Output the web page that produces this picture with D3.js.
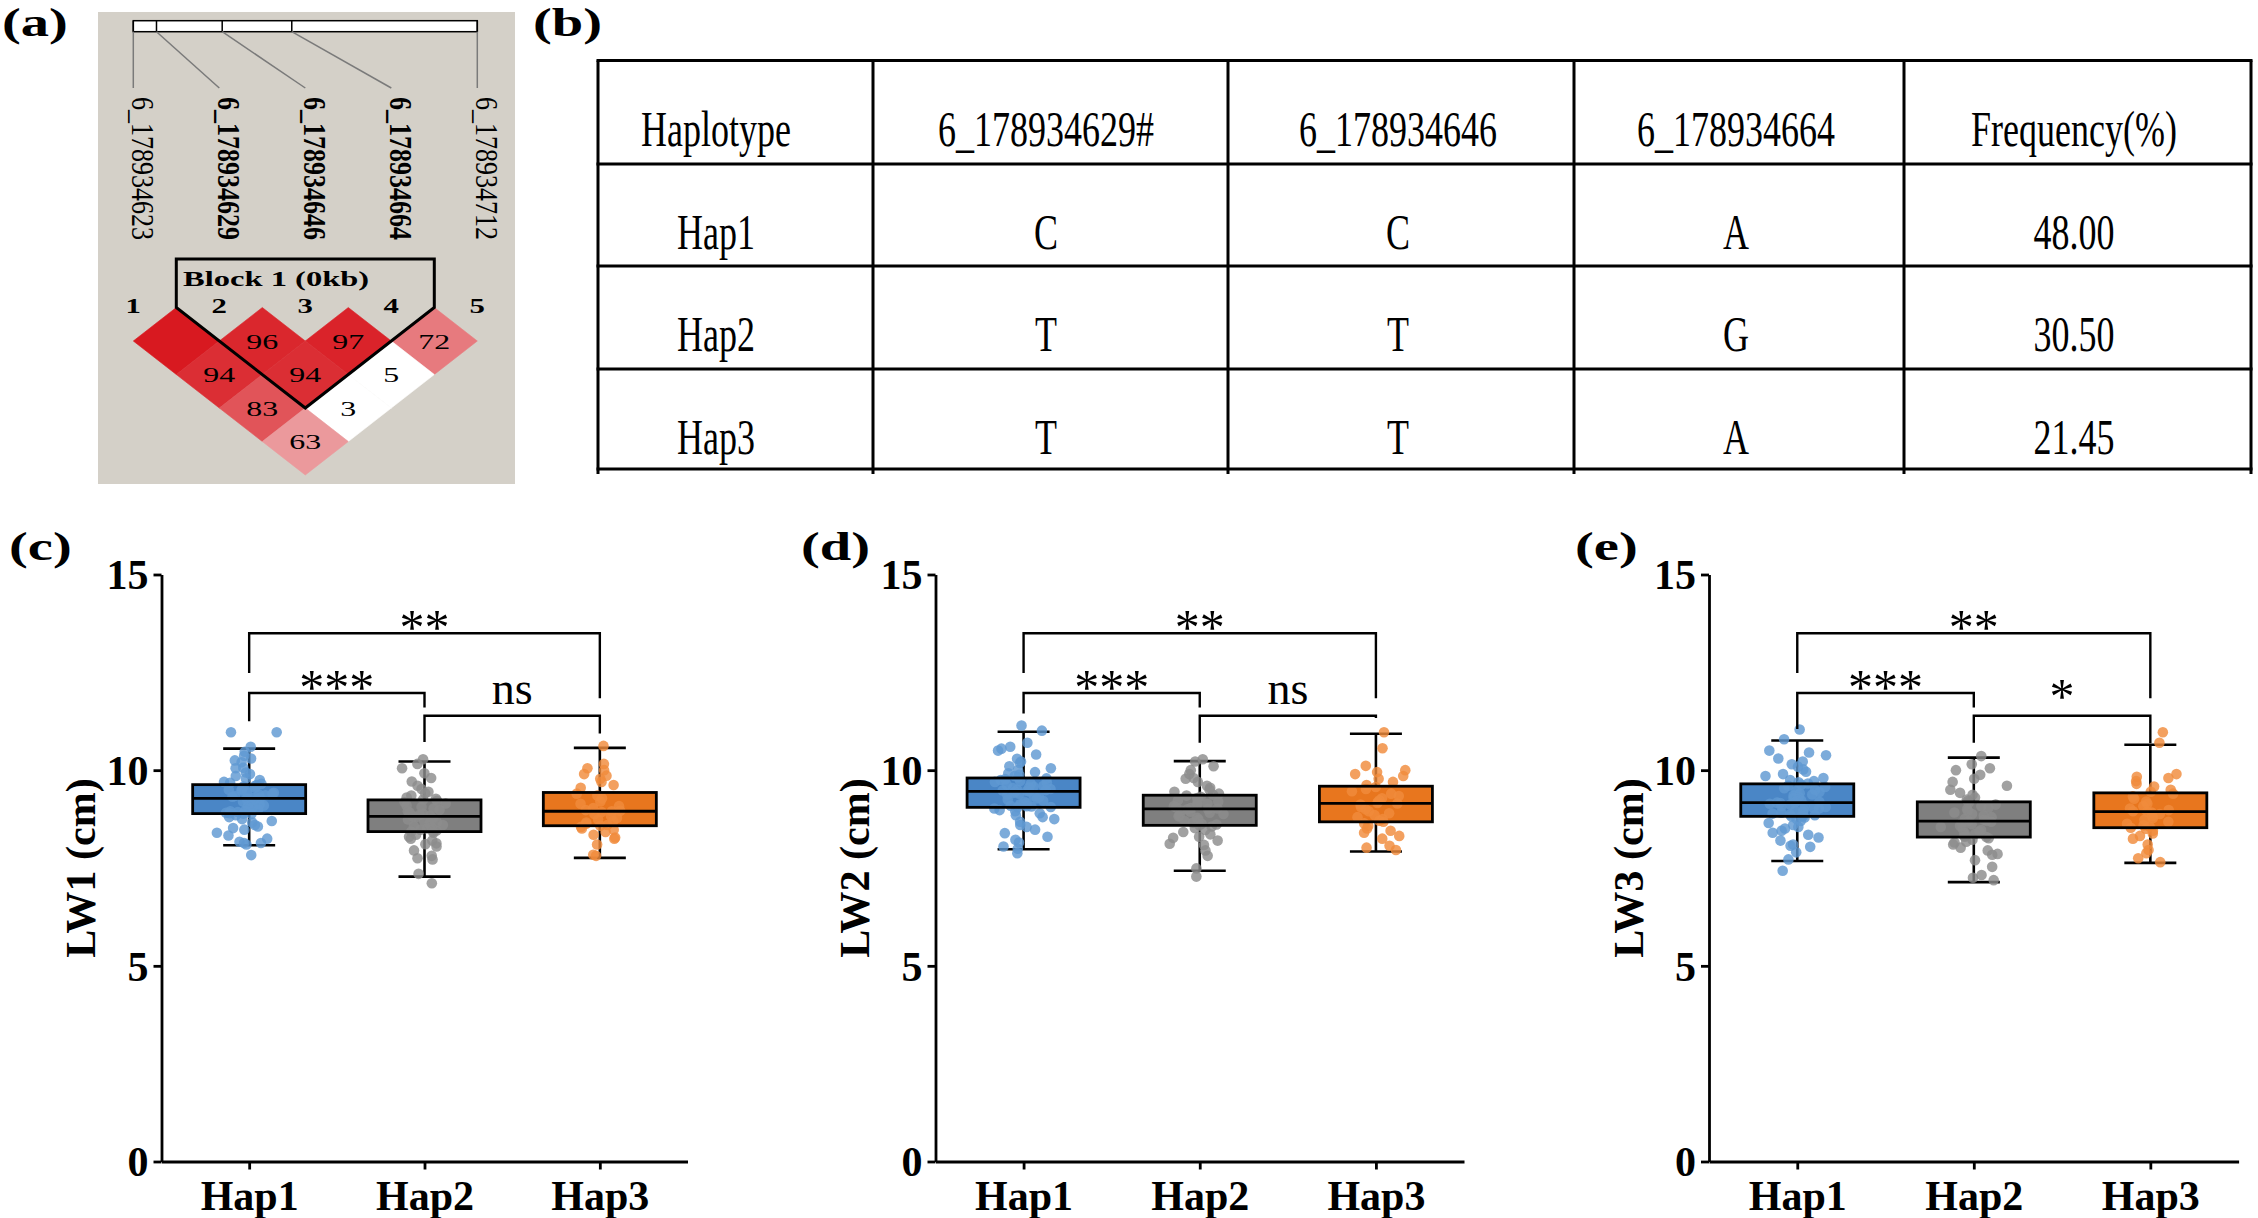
<!DOCTYPE html>
<html>
<head>
<meta charset="utf-8">
<script src="https://cdn.jsdelivr.net/npm/d3@7"></script>
<style>
  body { margin: 0; background: #fff; }
  svg text { font-family: "Liberation Serif", "Times New Roman", serif; }
</style>
</head>
<body>
<svg id="fig" width="2258" height="1218"></svg>
<script>
// ----- data: LD block (a)
const snpIds = ['6_178934623', '6_178934629', '6_178934646', '6_178934664', '6_178934712'];
const snpPos = [178934623, 178934629, 178934646, 178934664, 178934712];
const blockSnps = [1, 2, 3];
const blockName = 'Block 1 (0kb)';
// [snp i, snp j, D' x100, strong LD]
const ldPairs = [
    [0, 1, 100, true], [1, 2, 96, true], [2, 3, 97, true], [3, 4, 72, true],
    [0, 2, 94, true], [1, 3, 94, true], [2, 4, 5, false],
    [0, 3, 83, true], [1, 4, 3, false],
    [0, 4, 63, true]
];

// ----- data: haplotype table (b)
const tableHeader = ['Haplotype', '6_178934629#', '6_178934646', '6_178934664', 'Frequency(%)'];
const haplotypes = ['Hap1', 'Hap2', 'Hap3'];
const allele629 = ['C', 'T', 'T'];
const allele646 = ['C', 'T', 'T'];
const allele664 = ['A', 'G', 'A'];
const hapFreq = ['48.00', '30.50', '21.45'];

// ----- data: box plots (c)-(e)
const traits = ['LW1 (cm)', 'LW2 (cm)', 'LW3 (cm)'];
const yTicks = [0, 5, 10, 15];

// [lower whisker, Q1, median, Q3, upper whisker] per haplotype
const lw1Stats = [[8.08, 8.89, 9.28, 9.63, 10.55], [7.28, 8.43, 8.82, 9.24, 10.22], [7.76, 8.58, 8.95, 9.43, 10.57]];
const lw2Stats = [[7.98, 9.05, 9.46, 9.80, 10.98], [7.43, 8.59, 9.01, 9.36, 10.23], [7.92, 8.68, 9.15, 9.59, 10.93]];
const lw3Stats = [[7.68, 8.82, 9.17, 9.65, 10.76], [7.14, 8.29, 8.70, 9.19, 10.32], [7.63, 8.53, 8.94, 9.42, 10.65]];

const lw1Hap1 = [10.97, 10.97, 10.60, 10.47, 10.37, 10.30, 10.25, 10.20, 10.06, 10.05, 9.94, 9.90, 9.85, 9.79, 9.75, 9.70, 9.68, 9.65,
    9.62, 9.60, 9.58, 9.55, 9.52, 9.50, 9.48, 9.45, 9.42, 9.40, 9.38, 9.36, 9.34, 9.32, 9.30, 9.29, 9.28, 9.28,
    9.27, 9.25, 9.22, 9.20, 9.18, 9.15, 9.12, 9.10, 9.08, 9.05, 9.02, 9.00, 8.97, 8.95, 8.93, 8.91, 8.90, 8.89,
    8.88, 8.85, 8.80, 8.75, 8.70, 8.66, 8.60, 8.56, 8.52, 8.48, 8.40, 8.33, 8.25, 8.17, 8.14, 8.14, 8.10, 7.83];
const lw1Hap2 = [10.28, 10.16, 10.05, 9.92, 9.80, 9.71, 9.60, 9.52, 9.45, 9.41, 9.35, 9.30, 9.27, 9.25,
    9.22, 9.18, 9.15, 9.10, 9.06, 9.02, 8.98, 8.95, 8.92, 8.89, 8.86, 8.84, 8.83, 8.82,
    8.80, 8.77, 8.74, 8.70, 8.67, 8.64, 8.60, 8.57, 8.54, 8.51, 8.48, 8.46, 8.44, 8.43,
    8.40, 8.35, 8.30, 8.25, 8.20, 8.13, 8.11, 8.05, 7.95, 7.81, 7.75, 7.72, 7.35, 7.11];
const lw1Hap3 = [10.62, 10.16, 10.05, 10.00, 9.90, 9.86, 9.78, 9.70, 9.62, 9.55,
    9.40, 9.35, 9.28, 9.20, 9.14, 9.08, 9.03, 8.98, 8.96, 8.95,
    8.93, 8.88, 8.83, 8.78, 8.74, 8.70, 8.66, 8.63, 8.60, 8.58,
    8.55, 8.51, 8.48, 8.42, 8.35, 8.28, 8.25, 8.10, 7.84, 7.81];

const lw2Hap1 = [11.14, 11.01, 10.70, 10.60, 10.55, 10.50, 10.40, 10.29, 10.22, 10.18, 10.10, 10.05, 10.00, 9.95, 9.92, 9.88, 9.85, 9.82,
    9.79, 9.77, 9.75, 9.72, 9.70, 9.68, 9.65, 9.63, 9.60, 9.58, 9.56, 9.54, 9.52, 9.50, 9.49, 9.48, 9.47, 9.46,
    9.45, 9.42, 9.40, 9.37, 9.34, 9.31, 9.28, 9.25, 9.22, 9.19, 9.16, 9.13, 9.11, 9.09, 9.08, 9.07, 9.06, 9.05,
    9.02, 8.98, 8.95, 8.90, 8.85, 8.80, 8.75, 8.68, 8.60, 8.55, 8.48, 8.39, 8.30, 8.22, 8.15, 8.05, 7.99, 7.88];
const lw2Hap2 = [10.28, 10.22, 10.10, 10.00, 9.90, 9.80, 9.78, 9.70, 9.60, 9.55, 9.50, 9.45, 9.40, 9.37,
    9.35, 9.32, 9.29, 9.26, 9.23, 9.20, 9.17, 9.14, 9.11, 9.08, 9.05, 9.03, 9.02, 9.01,
    9.00, 8.97, 8.94, 8.91, 8.88, 8.85, 8.82, 8.78, 8.74, 8.70, 8.66, 8.63, 8.61, 8.59,
    8.56, 8.52, 8.47, 8.42, 8.36, 8.30, 8.27, 8.20, 8.12, 8.09, 7.95, 7.81, 7.49, 7.28];
const lw2Hap3 = [10.97, 10.56, 10.11, 10.00, 9.95, 9.90, 9.85, 9.78, 9.70, 9.62,
    9.57, 9.52, 9.46, 9.40, 9.34, 9.28, 9.23, 9.19, 9.16, 9.15,
    9.12, 9.06, 9.00, 8.95, 8.90, 8.85, 8.80, 8.75, 8.71, 8.68,
    8.64, 8.58, 8.51, 8.45, 8.40, 8.32, 8.25, 8.07, 8.02, 7.96];

const lw3Hap1 = [11.04, 10.79, 10.50, 10.45, 10.38, 10.30, 10.22, 10.15, 10.09, 10.02, 9.96, 9.90, 9.85, 9.80, 9.75, 9.72, 9.69, 9.66,
    9.63, 9.60, 9.57, 9.54, 9.50, 9.47, 9.44, 9.41, 9.38, 9.35, 9.32, 9.29, 9.26, 9.23, 9.21, 9.19, 9.18, 9.17,
    9.16, 9.14, 9.12, 9.10, 9.08, 9.06, 9.04, 9.02, 9.00, 8.97, 8.94, 8.91, 8.89, 8.87, 8.85, 8.84, 8.83, 8.82,
    8.79, 8.75, 8.70, 8.65, 8.60, 8.55, 8.51, 8.45, 8.40, 8.35, 8.28, 8.20, 8.10, 8.07, 8.04, 7.90, 7.72, 7.43];
const lw3Hap2 = [10.36, 10.15, 10.05, 10.00, 9.88, 9.78, 9.70, 9.60, 9.50, 9.42, 9.37, 9.30, 9.25, 9.21,
    9.17, 9.12, 9.08, 9.04, 9.00, 8.96, 8.92, 8.88, 8.84, 8.80, 8.76, 8.73, 8.71, 8.70,
    8.68, 8.65, 8.62, 8.58, 8.55, 8.51, 8.47, 8.44, 8.40, 8.37, 8.34, 8.32, 8.30, 8.29,
    8.26, 8.22, 8.17, 8.15, 8.10, 8.02, 7.95, 7.86, 7.84, 7.70, 7.53, 7.32, 7.25, 7.19];
const lw3Hap3 = [10.97, 10.70, 9.90, 9.83, 9.80, 9.72, 9.65, 9.58, 9.50, 9.45,
    9.40, 9.33, 9.27, 9.20, 9.14, 9.08, 9.02, 8.98, 8.95, 8.94,
    8.92, 8.88, 8.83, 8.78, 8.73, 8.68, 8.63, 8.59, 8.56, 8.53,
    8.50, 8.45, 8.38, 8.32, 8.25, 8.10, 7.96, 7.88, 7.75, 7.65];

// [from, to, bar height, left leg end, right leg end, label]
const lw1Brackets = [[0, 2, 13.5, 12.48, 11.84, '**'], [0, 1, 11.97, 11.25, 11.60, '***'], [1, 2, 11.39, 10.72, 10.94, 'ns']];
const lw2Brackets = [[0, 2, 13.5, 12.48, 11.84, '**'], [0, 1, 11.97, 11.45, 11.60, '***'], [1, 2, 11.39, 10.70, 11.33, 'ns']];
const lw3Brackets = [[0, 2, 13.5, 12.48, 11.84, '**'], [0, 1, 11.97, 11.05, 11.60, '***'], [1, 2, 11.39, 10.70, 10.69, '*']];

// ----- styles
const boxFill = ['#4a86c6', '#7f7f7f', '#e8761e'];
const dotFill = ['#5f98d2', '#8c8c8c', '#f08b3c'];

const svg = d3.select('#fig');

// scaled text helper (the figure was stretched / condensed in places)
function sText(g, x, y, str, size, opts = {}) {
    return g.append('text')
        .attr('transform', `translate(${x},${y}) scale(${opts.sx || 1},${opts.sy || 1})`)
        .attr('font-size', size)
        .attr('font-weight', opts.bold ? 'bold' : 'normal')
        .attr('text-anchor', opts.anchor || 'start')
        .attr('fill', '#000')
        .text(str);
}

// ----- panel letters
[['(a)', 2, 36], ['(b)', 533, 36], ['(c)', 9, 560], ['(d)', 801, 560], ['(e)', 1575, 560]]
    .forEach(([t, x, y]) => sText(svg, x, y, t, 39, { bold: true, sx: 1.45 }));

// ----- (a) LD heatmap
const gA = svg.append('g');
gA.append('rect').attr('x', 98).attr('y', 12).attr('width', 417).attr('height', 472).attr('fill', '#d4d0c8');

const ldX = d3.scalePoint().domain(d3.range(snpIds.length)).range([133.3, 477.3]);
const posX = d3.scaleLinear().domain(d3.extent(snpPos)).range(ldX.range());
const barTop = 20.7, barBottom = 31.7;

gA.append('rect')
    .attr('x', posX.range()[0]).attr('y', barTop)
    .attr('width', posX.range()[1] - posX.range()[0]).attr('height', barBottom - barTop)
    .attr('fill', '#fff').attr('stroke', '#000').attr('stroke-width', 1.5);
gA.selectAll('line.div').data(snpPos).enter().append('line')
    .attr('x1', d => posX(d)).attr('x2', d => posX(d))
    .attr('y1', barTop).attr('y2', barBottom)
    .attr('stroke', '#000').attr('stroke-width', 1.5);
gA.selectAll('line.link').data(snpPos).enter().append('line')
    .attr('x1', d => posX(d)).attr('y1', barBottom)
    .attr('x2', (d, i) => ldX(i)).attr('y2', 88)
    .attr('stroke', '#7a7a7a').attr('stroke-width', 1.5);

snpIds.forEach((id, i) => {
    gA.append('text')
        .attr('transform', `translate(${ldX(i) - 1},97) rotate(90) scale(1,1.2)`)
        .attr('font-size', 26)
        .attr('font-weight', blockSnps.includes(i) ? 'bold' : 'normal')
        .text(id);
    sText(gA, ldX(i), 313, String(i + 1), 22, { bold: true, sx: 1.4, anchor: 'middle' });
});

const dw = ldX.step() / 2, dh = 33.5, dy0 = 341;
const ldColor = d3.scaleLinear().domain([60, 100]).range(['#eda3a6', '#d81920']).clamp(true);
const cell = ([i, j]) => ({ cx: (ldX(i) + ldX(j)) / 2, cy: dy0 + (j - i - 1) * dh });

ldPairs.forEach(p => {
    const { cx, cy } = cell(p);
    const col = p[3] ? ldColor(p[2]) : '#ffffff';
    gA.append('path')
        .attr('d', `M${cx},${cy - dh}L${cx + dw},${cy}L${cx},${cy + dh}L${cx - dw},${cy}Z`)
        .attr('fill', col).attr('stroke', col).attr('stroke-width', 0.6);
    if (p[2] < 100) sText(gA, cx, cy + 7.5, String(p[2]), 22, { sx: 1.45, anchor: 'middle' });
});

// block outline
const bL = (ldX(blockSnps[0] - 1) + ldX(blockSnps[0])) / 2;
const bR = (ldX(blockSnps[2]) + ldX(blockSnps[2] + 1)) / 2;
const apex = cell([blockSnps[0], blockSnps[2]]);
gA.append('path')
    .attr('d', `M${bL},259L${bL},${dy0 - dh}L${apex.cx},${apex.cy + dh}L${bR},${dy0 - dh}L${bR},259Z`)
    .attr('fill', 'none').attr('stroke', '#000').attr('stroke-width', 3).attr('stroke-linejoin', 'miter');
sText(gA, 183, 286, blockName, 21, { bold: true, sx: 1.55 });

// ----- (b) table
const gB = svg.append('g');
const rowY = [60.5, 164, 266, 369, 469];
const colX = [598, 873, 1228, 1574, 1904, 2251];
const textX = [716, 1046, 1398, 1736, 2074];
rowY.forEach(y => gB.append('line').attr('x1', colX[0] - 1.5).attr('x2', colX[5] + 1.5)
    .attr('y1', y).attr('y2', y).attr('stroke', '#000').attr('stroke-width', 3));
colX.forEach(x => gB.append('line').attr('x1', x).attr('x2', x)
    .attr('y1', rowY[0]).attr('y2', 474).attr('stroke', '#000').attr('stroke-width', 3));

const tableRows = [tableHeader].concat(haplotypes.map((h, i) => [h, allele629[i], allele646[i], allele664[i], hapFreq[i]]));
tableRows.forEach((row, r) => {
    row.forEach((t, c) => sText(gB, textX[c], rowY[r] + 85, t, 50, { sx: 0.72, anchor: 'middle' }));
});

// ----- (c)-(e) box plots
const panels = [
    { x: [161.5, 687.5], stats: lw1Stats, pts: [lw1Hap1, lw1Hap2, lw1Hap3], br: lw1Brackets },
    { x: [935.5, 1464], stats: lw2Stats, pts: [lw2Hap1, lw2Hap2, lw2Hap3], br: lw2Brackets },
    { x: [1709, 2238.6], stats: lw3Stats, pts: [lw3Hap1, lw3Hap2, lw3Hap3], br: lw3Brackets }
];
const y = d3.scaleLinear().domain([0, 15]).range([1161.5, 574.5]);
const halfBox = 56.5, halfCap = 26, dotR = 5.3;

panels.forEach((p, k) => {
    const g = svg.append('g');
    const x = d3.scalePoint().domain(haplotypes).range(p.x).padding(0.5);

    // axes
    const yAxis = g.append('g').attr('transform', `translate(${p.x[0]},0)`)
        .call(d3.axisLeft(y).tickValues(yTicks).tickSize(8).tickSizeOuter(0).tickPadding(5));
    const xAxis = g.append('g').attr('transform', `translate(0,${y(0)})`)
        .call(d3.axisBottom(x).tickSize(8).tickSizeOuter(0).tickPadding(11));
    [yAxis, xAxis].forEach(a => {
        a.selectAll('path, line').attr('stroke', '#000').attr('stroke-width', 2.8);
        a.selectAll('text').attr('font-size', 42).attr('font-weight', 'bold')
            .attr('font-family', '"Liberation Serif", "Times New Roman", serif').attr('fill', '#000');
    });
    yAxis.selectAll('text').attr('dy', '0.34em');

    g.append('text')
        .attr('transform', `translate(${p.x[0] - 66.5},${(y(0) + y(15)) / 2}) rotate(-90)`)
        .attr('text-anchor', 'middle').attr('font-size', 42).attr('font-weight', 'bold')
        .text(traits[k]);

    // whiskers and box fill
    p.stats.forEach((s, i) => {
        const cx = x(haplotypes[i]);
        g.append('line').attr('x1', cx).attr('x2', cx).attr('y1', y(s[0])).attr('y2', y(s[4]))
            .attr('stroke', '#000').attr('stroke-width', 2.6);
        [s[0], s[4]].forEach(v => g.append('line')
            .attr('x1', cx - halfCap).attr('x2', cx + halfCap).attr('y1', y(v)).attr('y2', y(v))
            .attr('stroke', '#000').attr('stroke-width', 2.6));
        g.append('rect').attr('x', cx - halfBox).attr('width', 2 * halfBox)
            .attr('y', y(s[3])).attr('height', y(s[1]) - y(s[3])).attr('fill', boxFill[i]);
    });

    // jittered points (fixed seed, so the layout is stable)
    p.pts.forEach((vals, i) => {
        let seed = 17 + 31 * i + 7 * k;
        const rnd = () => { seed = (seed * 9301 + 49297) % 233280; return seed / 233280; };
        const cx = x(haplotypes[i]);
        g.selectAll(null).data(vals).enter().append('circle')
            .attr('cx', () => cx + (rnd() + rnd() - 1) * 34)
            .attr('cy', d => y(d))
            .attr('r', dotR)
            .attr('fill', dotFill[i]).attr('fill-opacity', 0.82);
    });

    // box outline + median on top
    p.stats.forEach((s, i) => {
        const cx = x(haplotypes[i]);
        g.append('rect').attr('x', cx - halfBox).attr('width', 2 * halfBox)
            .attr('y', y(s[3])).attr('height', y(s[1]) - y(s[3]))
            .attr('fill', 'none').attr('stroke', '#000').attr('stroke-width', 2.8);
        g.append('line').attr('x1', cx - halfBox).attr('x2', cx + halfBox).attr('y1', y(s[2])).attr('y2', y(s[2]))
            .attr('stroke', '#000').attr('stroke-width', 2.8);
    });

    // significance brackets
    p.br.forEach(([a, b, h, l1, l2, lab]) => {
        const xa = x(haplotypes[a]), xb = x(haplotypes[b]);
        g.append('path')
            .attr('d', `M${xa},${y(l1)}L${xa},${y(h)}L${xb},${y(h)}L${xb},${y(l2)}`)
            .attr('fill', 'none').attr('stroke', '#000').attr('stroke-width', 2.4);
        const isNs = lab === 'ns';
        g.append('text')
            .attr('x', (xa + xb) / 2)
            .attr('y', y(h) + (isNs ? -12 : (a === 1 ? -3 : 11)))
            .attr('text-anchor', 'middle').attr('font-size', isNs ? 46 : 50)
            .text(lab);
    });
});
</script>
</body>
</html>
